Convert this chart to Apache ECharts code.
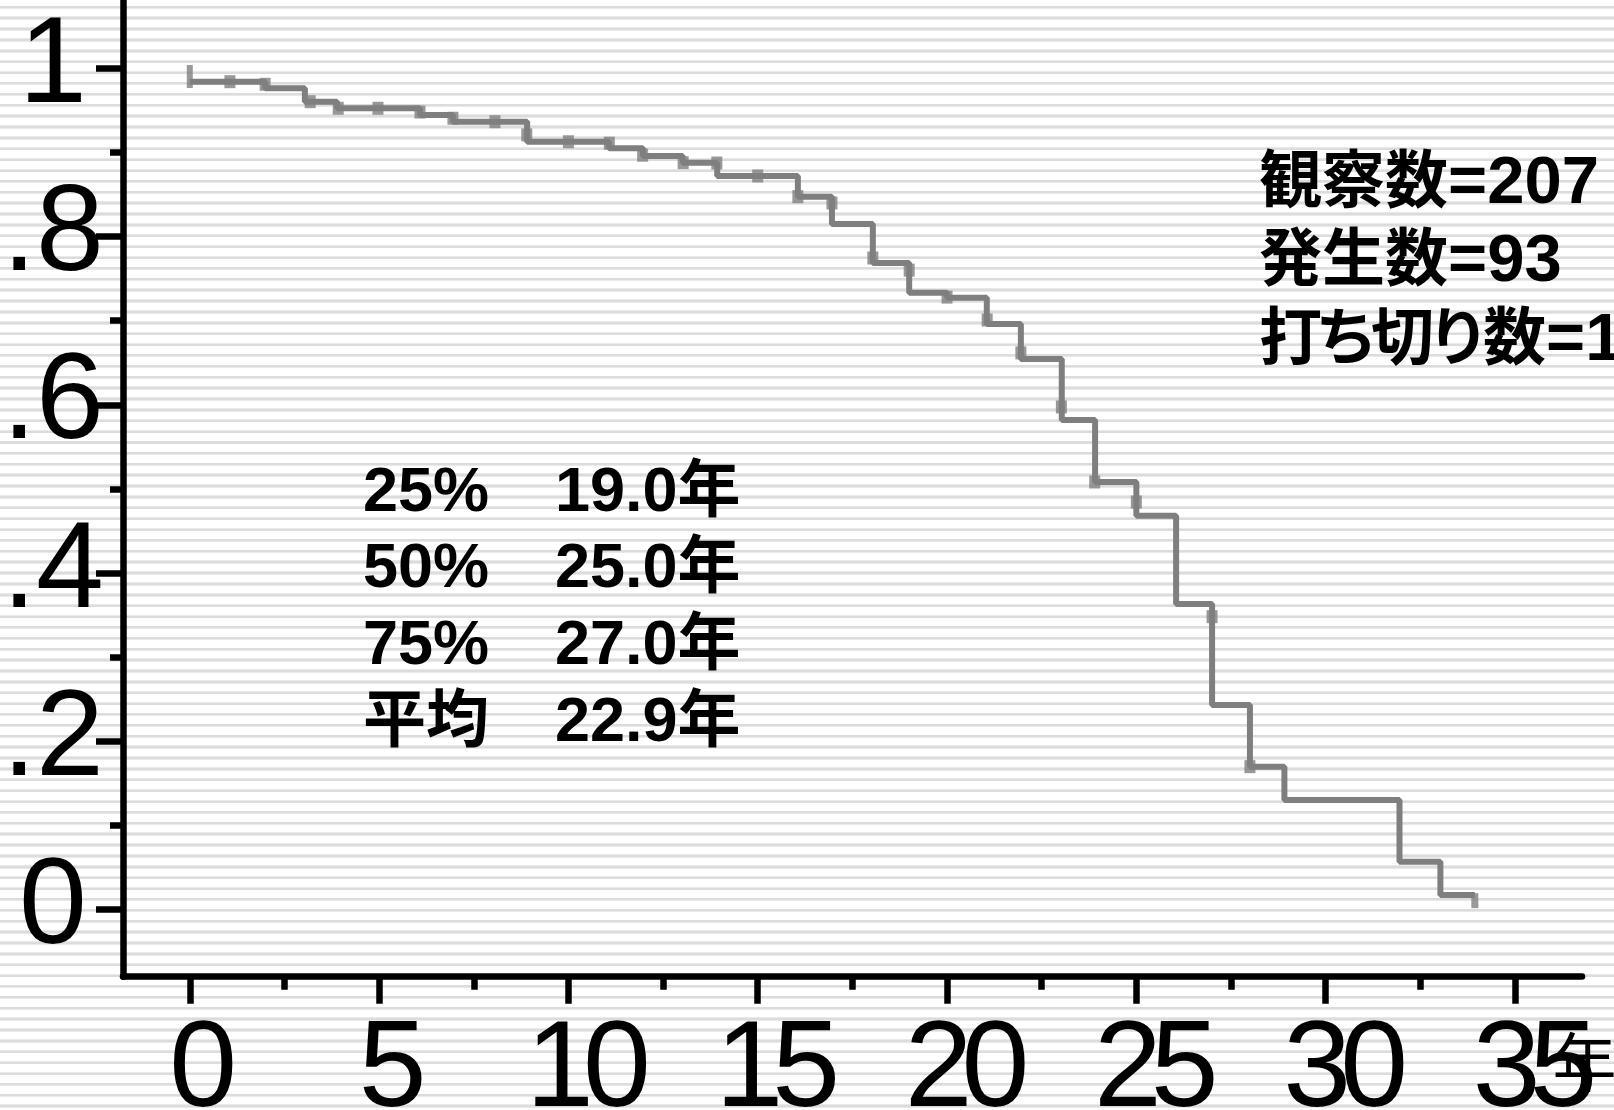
<!DOCTYPE html>
<html>
<head>
<meta charset="utf-8">
<script src="https://cdn.jsdelivr.net/npm/echarts@6/dist/echarts.min.js"></script>
<style>
  html, body { margin: 0; padding: 0; overflow: hidden; background: #fff; }
  #chart {
    width: 1614px; height: 1110px;
    background: repeating-linear-gradient(to bottom,
      #ffffff 0px, #ffffff 5.6px,
      #e9e9e9 5.6px, #e9e9e9 6.3px,
      #dcdcdc 6.3px, #dcdcdc 8.3px,
      #e9e9e9 8.3px, #e9e9e9 9.0px,
      #ffffff 9.0px, #ffffff 10.88px);
  }
</style>
</head>
<body>
<div id="chart"></div>
<script>
// Kaplan-Meier survival estimate (years, survival after each drop)
const KM_TIME = [0, 1.99, 3.04, 3.89, 6.08, 6.95, 8.91, 11.07, 11.97, 13.02, 13.93,
  16.06, 16.96, 18.04, 19.0, 20.0, 21.05, 21.95, 23.03, 23.91, 25.0, 26.05, 27.0,
  28.0, 28.91, 31.95, 33.03, 33.94];
const KM_SURV = [0.9841, 0.9762, 0.9603, 0.9525, 0.9445, 0.9365, 0.9127, 0.9049,
  0.8957, 0.8878, 0.8720, 0.8474, 0.8149, 0.7685, 0.7332, 0.7273, 0.6960, 0.6544,
  0.5819, 0.5082, 0.4681, 0.3632, 0.2431, 0.1698, 0.1302, 0.0568, 0.0172, 0.0172];

// Censoring marks
const CENSOR_TIME = [0, 1.06, 1.99, 3.18, 3.92, 4.97, 6.08, 6.95, 8.06, 8.90, 10.0,
  11.08, 11.96, 13.03, 13.92, 15.0, 16.06, 16.96, 18.04, 19.0, 20.0, 21.06, 21.95,
  23.02, 23.90, 25.0, 27.0, 28.0, 33.94];
const CENSOR_SURV = [0.9902, 0.9841, 0.981, 0.9603, 0.9525, 0.9525, 0.948, 0.9406,
  0.9365, 0.9208, 0.9127, 0.911, 0.8967, 0.8878, 0.8874, 0.8720, 0.8474, 0.8399,
  0.7745, 0.760, 0.728, 0.7008, 0.6617, 0.5974, 0.5082, 0.4844, 0.3481, 0.1698, 0.0105];

// Axis ticks and labels
const X_TICKS = [0, 5, 10, 15, 20, 25, 30, 35];
const X_TICK_LABELS = ['0', '5', '10', '15', '20', '25', '30', '35'];
const X_MINOR_TICKS = [2.5, 7.5, 12.5, 17.5, 22.5, 27.5, 32.5];
const Y_TICKS = [0, 0.2, 0.4, 0.6, 0.8, 1];
const Y_TICK_LABELS = ['0', '.2', '.4', '.6', '.8', '1'];
const Y_MINOR_TICKS = [0.1, 0.3, 0.5, 0.7, 0.9];
const X_UNIT = '年';

// Summary text: [label, value]
const COUNT_NAMES = ['観察数', '発生数', '打ち切り数'];
const COUNT_VALUES = [207, 93, 114];
const QUANTILE_NAMES = ['25%', '50%', '75%', '平均'];
const QUANTILE_YEARS = [19.0, 25.0, 27.0, 22.9];

const X_MIN = -1.764, X_MAX = 36.77;
const Y_MIN = -0.0799, Y_MAX = 1.0812;

const LINE_GRAY = '#7f7f7f';
const AXIS_W = 6.5;
const NUM_FONT = '"Liberation Sans", Arial, sans-serif';
const JP_FONT = '"Liberation Sans", Arial, "Noto Sans CJK JP", sans-serif';
const BOLD_FONT = 'bold 63px ' + JP_FONT;

const kmData = KM_TIME.map((t, i) => [t, KM_SURV[i]]);
const censorData = CENSOR_TIME.map((t, i) => [t, CENSOR_SURV[i]]);

function idxOf(arr, v) {
  return arr.findIndex(t => Math.abs(t - v) < 1e-6);
}

// Proportional set for kana: hiragana glyphs get a narrower box
function jpRich(name) {
  return Array.from(name).map(ch =>
    /[\u3040-\u309f]/.test(ch) ? '{k|' + ch + '}' : '{c|' + ch + '}'
  ).join('');
}

const chart = echarts.init(document.getElementById('chart'), null, { renderer: 'canvas' });

const tickStyle = { color: '#000', width: AXIS_W };
const digit = { fontSize: 122, fontFamily: NUM_FONT, color: '#000' };

chart.setOption({
  animation: false,
  backgroundColor: 'transparent',
  grid: { left: 123, right: 32, top: 0, bottom: 133.3, containLabel: false, outerBoundsMode: 'none' },
  xAxis: [{
    type: 'value', min: X_MIN, max: X_MAX, position: 'bottom',
    axisLine: { show: true, onZero: false, lineStyle: tickStyle },
    axisTick: { show: true, length: 27, lineStyle: tickStyle, customValues: X_TICKS },
    splitLine: { show: false },
    axisLabel: {
      customValues: X_TICKS,
      margin: 35,
      padding: [0, 0, 0, 40],
      formatter: v => {
        const s = X_TICK_LABELS[idxOf(X_TICKS, v)] || '';
        return s.length === 1 ? '{one|' + s + '}' : '{a|' + s[0] + '}{b|' + s.slice(1) + '}';
      },
      rich: {
        one: Object.assign({ padding: [0, 13, 0, 0] }, digit),
        a: Object.assign({}, digit),
        b: Object.assign({ padding: [0, 0, 0, -11] }, digit)
      }
    },
    name: X_UNIT,
    nameLocation: 'end',
    nameGap: -29.5,
    nameMoveOverlap: false,
    nameTextStyle: {
      fontSize: 64, fontFamily: '"Noto Sans CJK JP", sans-serif', color: '#000',
      align: 'left', verticalAlign: 'top', padding: [53, 0, 0, 0]
    }
  }, {
    type: 'value', min: X_MIN, max: X_MAX, position: 'bottom',
    axisLine: { show: false, onZero: false },
    axisTick: { show: true, length: 13, lineStyle: tickStyle, customValues: X_MINOR_TICKS },
    axisLabel: { show: false },
    splitLine: { show: false }
  }],
  yAxis: [{
    type: 'value', min: Y_MIN, max: Y_MAX, position: 'left',
    axisLine: { show: true, onZero: false, lineStyle: tickStyle },
    axisTick: { show: true, length: 27, lineStyle: tickStyle, customValues: Y_TICKS },
    splitLine: { show: false },
    axisLabel: {
      customValues: Y_TICKS,
      formatter: v => Y_TICK_LABELS[idxOf(Y_TICKS, v)] || '',
      fontSize: 122, fontFamily: NUM_FONT, color: '#000',
      align: 'center', margin: 70, padding: [0, 0, 12, 0]
    }
  }, {
    type: 'value', min: Y_MIN, max: Y_MAX, position: 'left',
    axisLine: { show: false, onZero: false },
    axisTick: { show: true, length: 13, lineStyle: tickStyle, customValues: Y_MINOR_TICKS },
    axisLabel: { show: false },
    splitLine: { show: false }
  }],
  series: [{
    type: 'line',
    step: 'end',
    data: kmData,
    symbol: 'none',
    lineStyle: { color: LINE_GRAY, width: 6 },
    xAxisIndex: 0, yAxisIndex: 0,
    z: 3
  }, {
    type: 'scatter',
    data: censorData,
    symbol: 'rect',
    symbolSize: (val, p) => {
      if (p.dataIndex === 0) return [6, 23];
      if (p.dataIndex === censorData.length - 1) return [7, 15];
      return [11, 13];
    },
    itemStyle: { color: LINE_GRAY },
    xAxisIndex: 0, yAxisIndex: 0,
    z: 4
  }],
  graphic: [{
    type: 'text', x: 1259, y: 145, z: 10,
    style: {
      text: COUNT_NAMES.map((n, i) => jpRich(n) + '{n|=' + COUNT_VALUES[i] + '}').join('\n'),
      fill: '#000', verticalAlign: 'top', align: 'left',
      rich: {
        c: { font: BOLD_FONT, lineHeight: 78.5 },
        k: { font: BOLD_FONT, lineHeight: 78.5, padding: [0, -7, 0, -7] },
        n: { font: 'bold 67px ' + NUM_FONT, lineHeight: 78.5 }
      }
    }
  }, {
    type: 'text', x: 363, y: 455, z: 10,
    style: {
      text: QUANTILE_NAMES.join('\n'), font: BOLD_FONT, fill: '#000',
      lineHeight: 76.7, verticalAlign: 'top', align: 'left'
    }
  }, {
    type: 'text', x: 555, y: 455, z: 10,
    style: {
      text: QUANTILE_YEARS.map(v => v.toFixed(1) + X_UNIT).join('\n'), font: BOLD_FONT, fill: '#000',
      lineHeight: 76.7, verticalAlign: 'top', align: 'left'
    }
  }]
});
</script>
</body>
</html>
